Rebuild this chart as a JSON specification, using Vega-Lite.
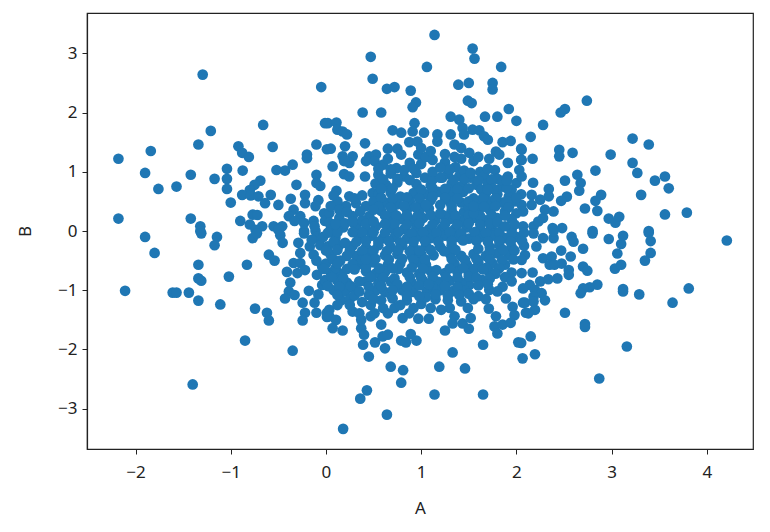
{"$schema":"https://vega.github.io/schema/vega-lite/v6.json","width":666,"height":436,"autosize":"none","padding":{"left":87,"top":13,"right":17,"bottom":83},"background":"white","config":{"view":{"stroke":"#222","strokeWidth":1.2}},"data":{"values":[
{"A":-1.295,"B":2.64},{"A":-0.05,"B":2.43},{"A":-0.66,"B":1.79},{"A":-1.21,"B":1.69},{"A":-1.34,"B":1.46},{"A":-2.18,"B":1.22},{"A":-1.84,"B":1.35},{"A":-1.9,"B":0.98},{"A":-1.76,"B":0.71},{"A":-1.57,"B":0.75},{"A":-1.42,"B":0.95},{"A":-1.17,"B":0.88},{"A":-0.92,"B":1.43},{"A":-0.88,"B":1.32},{"A":-0.81,"B":1.25},{"A":-0.56,"B":1.42},{"A":-0.1,"B":1.46},{"A":-0.2,"B":1.29},{"A":-0.2,"B":1.23},{"A":-1.04,"B":1.05},{"A":-1.04,"B":0.88},{"A":-1.04,"B":0.71},{"A":-0.875,"B":1.02},{"A":-0.52,"B":1.03},{"A":-0.43,"B":1.02},{"A":-0.35,"B":1.12},{"A":-0.1,"B":0.95},{"A":-0.1,"B":0.81},{"A":-0.06,"B":0.76},{"A":-0.31,"B":0.78},{"A":-0.69,"B":0.85},{"A":-0.75,"B":0.78},{"A":-0.8,"B":0.69},{"A":-0.88,"B":0.61},{"A":-0.79,"B":0.6},{"A":-0.71,"B":0.585},{"A":-0.64,"B":0.47},{"A":-0.58,"B":0.61},{"A":-1.0,"B":0.48},{"A":-0.5,"B":0.44},{"A":-0.37,"B":0.545},{"A":-0.22,"B":0.61},{"A":-0.22,"B":0.47},{"A":-0.08,"B":0.52},{"A":-0.11,"B":0.42},{"A":-2.18,"B":0.21},{"A":-1.42,"B":0.21},{"A":-0.9,"B":0.17},{"A":-0.77,"B":0.275},{"A":-0.72,"B":0.27},{"A":-1.32,"B":0.08},{"A":-1.32,"B":0},{"A":-0.8,"B":0.11},{"A":-0.67,"B":0.08},{"A":-0.74,"B":0.02},{"A":-0.55,"B":0.08},{"A":-0.46,"B":0.08},{"A":-0.5,"B":0.02},{"A":-0.34,"B":0.36},{"A":-0.39,"B":0.25},{"A":-0.27,"B":0.25},{"A":-0.33,"B":0.17},{"A":-0.23,"B":0.135},{"A":-0.13,"B":0.17},{"A":-0.02,"B":0.3},{"A":-0.01,"B":0.17},{"A":-0.23,"B":0},{"A":-0.11,"B":0},{"A":-0.01,"B":1.82},{"A":0.01,"B":1.38},
{"A":-1.9,"B":-0.1},{"A":-1.8,"B":-0.37},{"A":-1.31,"B":-0.04},{"A":-1.145,"B":-0.1},{"A":-1.17,"B":-0.24},{"A":-0.77,"B":-0.12},{"A":-0.725,"B":-0.04},{"A":-0.48,"B":-0.07},{"A":-0.455,"B":-0.2},{"A":-0.6,"B":-0.4},{"A":-0.54,"B":-0.5},{"A":-1.34,"B":-0.57},{"A":-0.83,"B":-0.57},{"A":-1.02,"B":-0.77},{"A":-1.34,"B":-0.8},{"A":-1.31,"B":-0.84},{"A":-2.11,"B":-1.01},{"A":-1.61,"B":-1.04},{"A":-1.57,"B":-1.04},{"A":-1.44,"B":-1.04},{"A":-1.34,"B":-1.175},{"A":-1.11,"B":-1.24},{"A":-0.745,"B":-1.31},{"A":-0.62,"B":-1.38},{"A":-0.6,"B":-1.51},{"A":-0.85,"B":-1.85},{"A":-0.35,"B":-2.02},{"A":-1.4,"B":-2.59},{"A":-0.375,"B":-0.87},{"A":-0.39,"B":-1.02},{"A":-0.33,"B":-1.08},{"A":-0.43,"B":-1.14},{"A":-0.18,"B":-1.01},{"A":-0.08,"B":-1.07},{"A":-0.12,"B":-1.21},{"A":-0.245,"B":-1.21},{"A":-0.22,"B":-1.38},{"A":-0.245,"B":-1.51},{"A":-0.1,"B":-1.38},{"A":0.01,"B":-1.38},{"A":0.01,"B":-1.45},{"A":-0.29,"B":-0.2},{"A":-0.23,"B":-0.04},{"A":-0.095,"B":-0.1},{"A":-0.17,"B":-0.26},{"A":-0.06,"B":-0.24},{"A":-0.27,"B":-0.37},{"A":-0.13,"B":-0.4},{"A":-0.34,"B":-0.54},{"A":-0.41,"B":-0.69},{"A":-0.27,"B":-0.54},{"A":-0.3,"B":-0.71},{"A":-0.22,"B":-0.66},{"A":-0.095,"B":-0.74},{"A":-0.04,"B":-0.6},{"A":-0.04,"B":-0.91},{"A":-0.01,"B":-0.83},
{"A":1.14,"B":3.31},{"A":1.54,"B":3.08},{"A":1.56,"B":2.91},{"A":0.47,"B":2.94},{"A":1.06,"B":2.77},{"A":1.84,"B":2.77},{"A":0.49,"B":2.57},{"A":0.64,"B":2.4},{"A":0.72,"B":2.43},{"A":0.89,"B":2.37},{"A":1.39,"B":2.47},{"A":1.5,"B":2.5},{"A":1.75,"B":2.5},{"A":1.75,"B":2.39},{"A":0.945,"B":2.17},{"A":0.91,"B":2.09},{"A":1.49,"B":2.2},{"A":1.53,"B":2.16},{"A":0.385,"B":2.0},{"A":0.58,"B":2.0},{"A":1.92,"B":2.06},{"A":1.67,"B":1.93},{"A":1.8,"B":1.93},{"A":2.0,"B":1.86},{"A":1.31,"B":1.93},{"A":1.4,"B":1.88},{"A":1.435,"B":1.74},{"A":1.54,"B":1.71},{"A":1.61,"B":1.7},{"A":1.66,"B":1.6},{"A":1.7,"B":1.54},{"A":1.45,"B":1.63},{"A":0.02,"B":1.82},{"A":0.11,"B":1.83},{"A":0.12,"B":1.71},{"A":0.175,"B":1.68},{"A":0.22,"B":1.63},{"A":0.93,"B":1.82},{"A":0.91,"B":1.68},{"A":1.03,"B":1.66},{"A":0.875,"B":1.5},{"A":0.96,"B":1.51},{"A":0.7,"B":1.7},{"A":0.79,"B":1.66},{"A":1.17,"B":1.63},{"A":1.17,"B":1.51},{"A":0.41,"B":1.48},{"A":1.31,"B":1.63},{"A":1.35,"B":1.46},{"A":1.42,"B":1.4},{"A":1.505,"B":1.32},{"A":0.2,"B":1.43},{"A":0.05,"B":1.39},{"A":1.855,"B":1.5},{"A":1.94,"B":1.52},{"A":2.05,"B":1.39},{"A":0.65,"B":1.39},{"A":0.75,"B":1.39},{"A":0.79,"B":1.29},{"A":0.455,"B":1.26},{"A":0.525,"B":1.29},{"A":0.42,"B":1.18},{"A":0.51,"B":1.18},{"A":0.175,"B":1.26},{"A":0.28,"B":1.26},{"A":0.245,"B":1.15},{"A":0.19,"B":1.18},{"A":0.97,"B":1.29},{"A":1.785,"B":1.34},{"A":1.82,"B":1.29},{"A":1.715,"B":1.22},{"A":1.775,"B":1.03},{"A":1.91,"B":1.15},{"A":2.05,"B":1.2},{"A":2.03,"B":1.03},{"A":1.91,"B":0.92},{"A":2.0,"B":0.81},{"A":0.07,"B":1.09},{"A":0.19,"B":0.96},{"A":0.245,"B":0.92},{"A":0.41,"B":0.92},{"A":0.11,"B":0.68},{"A":0.245,"B":0.585},{"A":0.315,"B":0.47},{"A":0.21,"B":0.42},{"A":0.49,"B":0.64},{"A":0.42,"B":0.42},{"A":0.035,"B":0.3},{"A":0.14,"B":0.22},{"A":0.28,"B":0.25},{"A":0.455,"B":0.25},{"A":0.035,"B":0.14},{"A":0.315,"B":0.08},{"A":0.665,"B":0.19},{"A":0.525,"B":0.08},
{"A":0.18,"B":-3.34},{"A":0.64,"B":-3.1},{"A":0.36,"B":-2.83},{"A":0.43,"B":-2.69},{"A":1.14,"B":-2.76},{"A":1.65,"B":-2.76},{"A":0.79,"B":-2.56},{"A":0.81,"B":-2.35},{"A":0.68,"B":-2.29},{"A":1.19,"B":-2.29},{"A":1.46,"B":-2.32},{"A":0.45,"B":-2.12},{"A":1.33,"B":-2.05},{"A":1.65,"B":-1.92},{"A":0.39,"B":-1.92},{"A":0.515,"B":-1.88},{"A":0.62,"B":-1.98},{"A":0.595,"B":-1.78},{"A":0.65,"B":-1.75},{"A":0.79,"B":-1.85},{"A":0.84,"B":-1.88},{"A":0.89,"B":-1.74},{"A":0.95,"B":-1.85},{"A":1.25,"B":-1.68},{"A":2.02,"B":-1.88},{"A":2.065,"B":-2.15},{"A":0.37,"B":-1.64},{"A":0.4,"B":-1.75},{"A":0.16,"B":-1.17},{"A":0.035,"B":-1.33},{"A":0.035,"B":-1.44},{"A":0.105,"B":-1.5},{"A":0.07,"B":-1.64},{"A":0.175,"B":-1.68},{"A":0.28,"B":-1.36},{"A":0.35,"B":-1.39},{"A":0.37,"B":-1.5},{"A":0.47,"B":-1.25},{"A":0.47,"B":-1.44},{"A":0.51,"B":-1.39},{"A":0.58,"B":-1.58},{"A":0.65,"B":-1.39},{"A":0.805,"B":-1.47},{"A":0.875,"B":-1.39},{"A":1.0,"B":-1.23},{"A":0.97,"B":-1.48},{"A":1.08,"B":-1.48},{"A":1.06,"B":-1.01},{"A":1.21,"B":-1.33},{"A":1.42,"B":-1.19},{"A":1.49,"B":-1.3},{"A":1.35,"B":-1.44},{"A":1.33,"B":-1.56},{"A":1.435,"B":-1.56},{"A":1.52,"B":-1.47},{"A":1.5,"B":-1.65},{"A":1.71,"B":-1.31},{"A":1.785,"B":-1.44},{"A":1.77,"B":-1.61},{"A":1.8,"B":-1.73},{"A":1.855,"B":-1.58},{"A":1.96,"B":-1.28},{"A":1.98,"B":-1.42},{"A":1.94,"B":-1.55},{"A":2.07,"B":-1.21},{"A":2.1,"B":-1.38},{"A":1.855,"B":-0.94},{"A":1.89,"B":-1.14},{"A":1.715,"B":-0.995},{"A":1.8,"B":-1.02},{"A":1.715,"B":-0.69},{"A":1.645,"B":-0.83},{"A":1.505,"B":-0.91},
{"A":2.74,"B":2.2},{"A":2.51,"B":2.06},{"A":2.465,"B":2.0},{"A":2.28,"B":1.79},{"A":2.15,"B":1.59},{"A":3.22,"B":1.56},{"A":3.39,"B":1.46},{"A":2.45,"B":1.37},{"A":2.45,"B":1.26},{"A":2.59,"B":1.32},{"A":2.99,"B":1.29},{"A":3.22,"B":1.15},{"A":3.27,"B":0.98},{"A":2.83,"B":1.02},{"A":2.64,"B":0.95},{"A":2.675,"B":0.81},{"A":2.66,"B":0.68},{"A":2.51,"B":0.85},{"A":2.175,"B":0.815},{"A":3.56,"B":0.92},{"A":3.455,"B":0.85},{"A":3.6,"B":0.72},{"A":3.31,"B":0.61},{"A":3.79,"B":0.31},{"A":3.56,"B":0.28},{"A":2.89,"B":0.61},{"A":2.83,"B":0.51},{"A":2.72,"B":0.38},{"A":2.85,"B":0.34},{"A":2.97,"B":0.21},{"A":3.04,"B":0.14},{"A":3.08,"B":0.24},{"A":2.53,"B":0.58},{"A":2.47,"B":0.51},{"A":2.34,"B":0.71},{"A":2.34,"B":0.585},{"A":2.16,"B":0.61},{"A":2.16,"B":0.44},{"A":2.25,"B":0.53},{"A":2.055,"B":1.37},{"A":2.055,"B":1.2},{"A":2.17,"B":1.22},{"A":2.055,"B":0.92},{"A":2.055,"B":0.44},{"A":2.07,"B":0.33},{"A":2.3,"B":0.36},{"A":2.39,"B":0.33},{"A":2.28,"B":0.22},{"A":2.07,"B":0.08},{"A":2.18,"B":0.08},{"A":2.23,"B":0.16},{"A":2.38,"B":0.05},{"A":2.48,"B":0.05},{"A":2.8,"B":0},{"A":3.39,"B":0},
{"A":4.21,"B":-0.16},{"A":3.81,"B":-0.97},{"A":3.64,"B":-1.21},{"A":3.29,"B":-1.07},{"A":3.12,"B":-0.98},{"A":3.12,"B":-1.02},{"A":3.16,"B":-1.95},{"A":2.87,"B":-2.49},{"A":2.72,"B":-1.57},{"A":2.72,"B":-1.62},{"A":2.51,"B":-1.38},{"A":2.15,"B":-1.78},{"A":2.05,"B":-1.89},{"A":2.195,"B":-2.08},{"A":2.85,"B":-0.905},{"A":2.77,"B":-0.95},{"A":2.7,"B":-0.97},{"A":2.675,"B":-1.05},{"A":2.7,"B":-0.6},{"A":2.745,"B":-0.67},{"A":3.035,"B":-0.635},{"A":3.1,"B":-0.57},{"A":3.06,"B":-0.38},{"A":3.1,"B":-0.22},{"A":3.12,"B":-0.08},{"A":2.97,"B":-0.135},{"A":2.7,"B":-0.3},{"A":3.39,"B":-0.03},{"A":3.41,"B":-0.17},{"A":3.41,"B":-0.37},{"A":3.35,"B":-0.5},{"A":2.8,"B":-0.04},{"A":2.58,"B":-0.1},{"A":2.6,"B":-0.18},{"A":2.47,"B":-0.33},{"A":2.57,"B":-0.43},{"A":2.475,"B":-0.55},{"A":2.55,"B":-0.66},{"A":2.55,"B":-0.74},{"A":2.28,"B":-0.46},{"A":2.37,"B":-0.43},{"A":2.35,"B":-0.57},{"A":2.4,"B":-0.57},{"A":2.09,"B":-0.405},{"A":2.055,"B":-0.49},{"A":2.17,"B":-0.7},{"A":2.21,"B":-0.26},{"A":2.28,"B":-0.12},{"A":2.39,"B":-0.12},{"A":2.39,"B":0},{"A":2.18,"B":-0.04},{"A":2.055,"B":-0.71},{"A":2.14,"B":-0.91},{"A":2.25,"B":-0.85},{"A":2.335,"B":-0.815},{"A":2.43,"B":-0.8},{"A":2.07,"B":-0.97},{"A":2.195,"B":-0.995},{"A":2.265,"B":-1.05},{"A":2.3,"B":-1.17},{"A":2.18,"B":-1.11},{"A":2.09,"B":-1.21},{"A":2.195,"B":-1.33},{"A":2.125,"B":-1.39},{"A":2.18,"B":-1.19},
{"A":0.6,"B":1.12},{"A":0.74,"B":1.06},{"A":0.88,"B":1.15},{"A":1.0,"B":1.13},{"A":1.25,"B":1.16},{"A":1.36,"B":1.08},{"A":1.42,"B":1.22},{"A":1.62,"B":1.0},{"A":1.12,"B":1.2},
{"A":0.55,"B":0.95},{"A":0.68,"B":0.97},{"A":0.82,"B":0.92},{"A":0.95,"B":0.98},{"A":1.04,"B":0.9},{"A":1.28,"B":0.96},{"A":1.4,"B":0.93},{"A":1.52,"B":0.9},{"A":1.66,"B":0.93},{"A":1.8,"B":0.88},
{"A":0.52,"B":0.8},{"A":0.63,"B":0.78},{"A":0.75,"B":0.82},{"A":0.95,"B":0.79},{"A":1.1,"B":0.77},{"A":1.32,"B":0.8},{"A":1.42,"B":0.76},{"A":1.58,"B":0.78},{"A":1.7,"B":0.8},{"A":1.85,"B":0.75},{"A":1.95,"B":0.7},
{"A":0.55,"B":0.62},{"A":0.68,"B":0.65},{"A":0.78,"B":0.58},{"A":0.92,"B":0.64},{"A":1.05,"B":0.62},{"A":1.18,"B":0.66},{"A":1.32,"B":0.64},{"A":1.44,"B":0.66},{"A":1.68,"B":0.64},{"A":1.8,"B":0.62},{"A":1.92,"B":0.58},{"A":2.05,"B":0.62},
{"A":0.5,"B":0.5},{"A":0.62,"B":0.48},{"A":0.75,"B":0.45},{"A":0.88,"B":0.5},{"A":1.0,"B":0.47},{"A":1.1,"B":0.52},{"A":1.3,"B":0.5},{"A":1.42,"B":0.48},{"A":1.6,"B":0.47},{"A":1.72,"B":0.5},{"A":1.85,"B":0.48},{"A":1.98,"B":0.5},
{"A":0.58,"B":0.34},{"A":0.7,"B":0.32},{"A":0.85,"B":0.36},{"A":0.98,"B":0.33},{"A":1.08,"B":0.38},{"A":1.32,"B":0.35},{"A":1.45,"B":0.32},{"A":1.6,"B":0.34},{"A":1.72,"B":0.36},{"A":1.88,"B":0.33},{"A":2.0,"B":0.3},
{"A":0.38,"B":0.18},{"A":0.78,"B":0.2},{"A":0.9,"B":0.18},{"A":1.02,"B":0.22},{"A":1.15,"B":0.18},{"A":1.3,"B":0.2},{"A":1.42,"B":0.17},{"A":1.55,"B":0.22},{"A":1.68,"B":0.18},{"A":1.8,"B":0.22},{"A":1.95,"B":0.2},
{"A":0.05,"B":0.03},{"A":0.18,"B":0.06},{"A":0.42,"B":0.03},{"A":0.68,"B":0.05},{"A":0.82,"B":0.03},{"A":0.95,"B":0.06},{"A":1.08,"B":0.03},{"A":1.22,"B":0.05},{"A":1.35,"B":0.03},{"A":1.48,"B":0.06},{"A":1.62,"B":0.03},{"A":1.74,"B":0.05},{"A":1.95,"B":0.02},
{"A":-0.03,"B":-0.1},{"A":0.1,"B":-0.12},{"A":0.35,"B":-0.1},{"A":0.48,"B":-0.08},{"A":0.6,"B":-0.12},{"A":0.72,"B":-0.1},{"A":0.85,"B":-0.13},{"A":0.98,"B":-0.09},{"A":1.1,"B":-0.12},{"A":1.25,"B":-0.08},{"A":1.38,"B":-0.1},{"A":1.5,"B":-0.13},{"A":1.62,"B":-0.1},{"A":1.75,"B":-0.08},{"A":1.88,"B":-0.12},{"A":2.0,"B":-0.1},
{"A":0.02,"B":-0.26},{"A":0.14,"B":-0.24},{"A":0.28,"B":-0.25},{"A":0.42,"B":-0.28},{"A":0.55,"B":-0.24},{"A":0.68,"B":-0.27},{"A":0.8,"B":-0.24},{"A":0.92,"B":-0.28},{"A":1.05,"B":-0.25},{"A":1.2,"B":-0.27},{"A":1.32,"B":-0.24},{"A":1.72,"B":-0.27},{"A":1.82,"B":-0.24},{"A":1.95,"B":-0.27},{"A":2.08,"B":-0.25},
{"A":0.05,"B":-0.4},{"A":0.32,"B":-0.42},{"A":0.45,"B":-0.38},{"A":0.62,"B":-0.41},{"A":0.75,"B":-0.39},{"A":0.9,"B":-0.42},{"A":1.0,"B":-0.39},{"A":1.13,"B":-0.41},{"A":1.3,"B":-0.38},{"A":1.42,"B":-0.42},{"A":1.55,"B":-0.39},{"A":1.68,"B":-0.42},{"A":1.8,"B":-0.38},{"A":1.92,"B":-0.41},
{"A":0.0,"B":-0.55},{"A":0.35,"B":-0.56},{"A":0.5,"B":-0.53},{"A":0.65,"B":-0.57},{"A":0.78,"B":-0.55},{"A":0.95,"B":-0.53},{"A":1.05,"B":-0.57},{"A":1.35,"B":-0.55},{"A":1.48,"B":-0.57},{"A":1.6,"B":-0.53},{"A":1.75,"B":-0.55},{"A":1.88,"B":-0.57},
{"A":0.05,"B":-0.7},{"A":0.15,"B":-0.72},{"A":0.42,"B":-0.68},{"A":0.52,"B":-0.72},{"A":0.62,"B":-0.69},{"A":0.85,"B":-0.7},{"A":0.98,"B":-0.72},{"A":1.1,"B":-0.68},{"A":1.25,"B":-0.71},{"A":1.38,"B":-0.69},{"A":1.5,"B":-0.72},{"A":1.95,"B":-0.7},
{"A":0.0,"B":-0.86},{"A":0.12,"B":-0.84},{"A":0.22,"B":-0.87},{"A":0.42,"B":-0.85},{"A":0.55,"B":-0.88},{"A":0.68,"B":-0.85},{"A":0.9,"B":-0.87},{"A":1.02,"B":-0.84},{"A":1.18,"B":-0.86},{"A":1.3,"B":-0.84},{"A":1.42,"B":-0.87},
{"A":0.08,"B":-1.0},{"A":0.2,"B":-1.02},{"A":0.3,"B":-0.99},{"A":0.52,"B":-1.01},{"A":0.62,"B":-1.03},{"A":0.8,"B":-1.0},{"A":0.92,"B":-1.03},{"A":1.2,"B":-1.0},{"A":1.32,"B":-1.02},{"A":1.45,"B":-1.0},
{"A":0.25,"B":-1.15},{"A":0.58,"B":-1.17},{"A":0.7,"B":-1.14},{"A":0.85,"B":-1.17},{"A":1.15,"B":-1.15},{"A":1.28,"B":-1.17},
{"A":0.68,"B":1.04},{"A":0.82,"B":1.03},{"A":0.92,"B":1.05},{"A":1.3,"B":1.04},{"A":1.45,"B":1.02},{"A":1.7,"B":1.05},
{"A":0.6,"B":0.87},{"A":0.75,"B":0.88},{"A":0.88,"B":0.86},{"A":1.12,"B":0.87},{"A":1.22,"B":0.9},{"A":1.34,"B":0.86},{"A":1.46,"B":0.88},{"A":1.6,"B":0.85},{"A":1.74,"B":0.87},{"A":1.86,"B":0.85},
{"A":0.58,"B":0.71},{"A":0.7,"B":0.72},{"A":1.0,"B":0.7},{"A":1.12,"B":0.72},{"A":1.25,"B":0.71},{"A":1.38,"B":0.7},{"A":1.5,"B":0.72},{"A":1.63,"B":0.7},{"A":1.76,"B":0.71},{"A":1.9,"B":0.72},
{"A":0.58,"B":0.56},{"A":0.7,"B":0.55},{"A":0.85,"B":0.57},{"A":0.98,"B":0.55},{"A":1.12,"B":0.58},{"A":1.25,"B":0.56},{"A":1.38,"B":0.55},{"A":1.65,"B":0.56},{"A":1.78,"B":0.55},{"A":1.9,"B":0.5},{"A":2.0,"B":0.56},
{"A":0.55,"B":0.41},{"A":0.68,"B":0.4},{"A":0.82,"B":0.42},{"A":0.94,"B":0.4},{"A":1.05,"B":0.44},{"A":1.32,"B":0.42},{"A":1.5,"B":0.4},{"A":1.66,"B":0.41},{"A":1.78,"B":0.42},{"A":1.92,"B":0.4},
{"A":0.62,"B":0.26},{"A":0.74,"B":0.26},{"A":0.85,"B":0.27},{"A":0.96,"B":0.25},{"A":1.1,"B":0.27},{"A":1.24,"B":0.26},{"A":1.36,"B":0.26},{"A":1.5,"B":0.27},{"A":1.62,"B":0.25},{"A":1.74,"B":0.27},{"A":1.88,"B":0.26},
{"A":0.2,"B":0.13},{"A":0.42,"B":0.12},{"A":0.72,"B":0.12},{"A":0.85,"B":0.11},{"A":0.98,"B":0.13},{"A":1.12,"B":0.11},{"A":1.25,"B":0.12},{"A":1.38,"B":0.11},{"A":1.5,"B":0.13},{"A":1.62,"B":0.11},{"A":1.72,"B":0.12},{"A":1.98,"B":0.11},
{"A":0.02,"B":-0.03},{"A":0.12,"B":-0.02},{"A":0.38,"B":-0.03},{"A":0.5,"B":-0.02},{"A":0.62,"B":-0.03},{"A":0.76,"B":-0.02},{"A":0.9,"B":-0.04},{"A":1.02,"B":-0.02},{"A":1.16,"B":-0.03},{"A":1.3,"B":-0.02},{"A":1.42,"B":-0.04},{"A":1.56,"B":-0.02},{"A":1.68,"B":-0.03},{"A":1.82,"B":-0.02},{"A":1.95,"B":-0.04},{"A":2.08,"B":-0.03},
{"A":0.08,"B":-0.18},{"A":0.32,"B":-0.18},{"A":0.42,"B":-0.17},{"A":0.55,"B":-0.18},{"A":0.66,"B":-0.17},{"A":0.78,"B":-0.19},{"A":0.92,"B":-0.18},{"A":1.04,"B":-0.17},{"A":1.18,"B":-0.18},{"A":1.32,"B":-0.17},{"A":1.44,"B":-0.16},{"A":1.58,"B":-0.17},{"A":1.7,"B":-0.18},{"A":1.82,"B":-0.17},{"A":1.94,"B":-0.18},{"A":2.06,"B":-0.17},
{"A":0.0,"B":-0.33},{"A":0.12,"B":-0.32},{"A":0.25,"B":-0.33},{"A":0.38,"B":-0.34},{"A":0.5,"B":-0.33},{"A":0.64,"B":-0.34},{"A":0.76,"B":-0.32},{"A":0.88,"B":-0.34},{"A":0.98,"B":-0.33},{"A":1.1,"B":-0.32},{"A":1.24,"B":-0.34},{"A":1.36,"B":-0.32},{"A":1.72,"B":-0.34},{"A":1.86,"B":-0.32},{"A":1.98,"B":-0.33},
{"A":0.08,"B":-0.48},{"A":0.38,"B":-0.49},{"A":0.52,"B":-0.47},{"A":0.66,"B":-0.48},{"A":0.8,"B":-0.47},{"A":0.92,"B":-0.49},{"A":1.04,"B":-0.48},{"A":1.32,"B":-0.47},{"A":1.46,"B":-0.49},{"A":1.58,"B":-0.47},{"A":1.72,"B":-0.48},{"A":1.85,"B":-0.49},{"A":1.97,"B":-0.48},
{"A":-0.02,"B":-0.64},{"A":0.1,"B":-0.63},{"A":0.22,"B":-0.64},{"A":0.42,"B":-0.62},{"A":0.56,"B":-0.63},{"A":0.76,"B":-0.64},{"A":0.9,"B":-0.62},{"A":1.02,"B":-0.64},{"A":1.16,"B":-0.66},{"A":1.3,"B":-0.63},{"A":1.44,"B":-0.62},{"A":1.56,"B":-0.64},{"A":1.68,"B":-0.62},{"A":1.82,"B":-0.63},
{"A":0.06,"B":-0.78},{"A":0.18,"B":-0.79},{"A":0.47,"B":-0.78},{"A":0.6,"B":-0.79},{"A":0.88,"B":-0.78},{"A":1.0,"B":-0.79},{"A":1.12,"B":-0.77},{"A":1.26,"B":-0.78},{"A":1.38,"B":-0.79},{"A":1.5,"B":-0.77},{"A":1.58,"B":-0.79},
{"A":0.02,"B":-0.93},{"A":0.14,"B":-0.94},{"A":0.26,"B":-0.93},{"A":0.45,"B":-0.94},{"A":0.58,"B":-0.93},{"A":0.85,"B":-0.94},{"A":0.98,"B":-0.92},{"A":1.12,"B":-0.94},{"A":1.25,"B":-0.93},{"A":1.38,"B":-0.94},
{"A":0.12,"B":-1.08},{"A":0.3,"B":-1.09},{"A":0.45,"B":-1.08},{"A":0.68,"B":-1.07},{"A":0.85,"B":-1.09},{"A":1.15,"B":-1.07},{"A":1.28,"B":-1.09},{"A":1.4,"B":-1.08},{"A":1.5,"B":-1.06},
{"A":0.3,"B":0.55},{"A":0.38,"B":0.6},{"A":0.12,"B":0.5},{"A":0.05,"B":0.42},{"A":0.14,"B":0.36},{"A":0.36,"B":0.33},{"A":0.5,"B":0.36},{"A":0.22,"B":0.32},{"A":0.1,"B":0.12},{"A":0.28,"B":0.15},{"A":0.5,"B":0.16},{"A":0.62,"B":0.12},{"A":0.28,"B":-0.02},{"A":0.2,"B":-0.2},{"A":0.22,"B":-0.42},{"A":0.15,"B":-0.5},{"A":0.28,"B":-0.56},{"A":0.42,"B":-0.48},{"A":0.3,"B":-0.65},{"A":0.7,"B":-0.63},{"A":0.72,"B":-0.8},{"A":0.75,"B":-0.9},{"A":0.35,"B":-0.85},{"A":0.35,"B":-1.02},{"A":1.2,"B":0.44},{"A":1.2,"B":0.3},{"A":1.2,"B":0.9},{"A":1.12,"B":1.0},{"A":1.2,"B":1.07},{"A":1.05,"B":1.25},{"A":1.25,"B":1.3},{"A":1.35,"B":1.25},{"A":1.55,"B":1.18},{"A":1.6,"B":1.25},{"A":1.0,"B":1.4},{"A":1.1,"B":1.35},{"A":1.52,"B":0.98},{"A":1.9,"B":0.85},{"A":1.7,"B":0.7},{"A":1.55,"B":0.55},{"A":1.5,"B":0.5},{"A":1.55,"B":0.3},{"A":1.55,"B":0.42},{"A":1.8,"B":0.15},{"A":1.88,"B":0.08},{"A":1.6,"B":-0.3},{"A":1.65,"B":-0.65},{"A":1.78,"B":-0.72},{"A":1.88,"B":-0.78},{"A":1.72,"B":-0.8},{"A":1.95,"B":-0.85},{"A":1.6,"B":-0.92},{"A":1.7,"B":-0.9},{"A":1.6,"B":-1.1},{"A":1.68,"B":-1.15},{"A":1.55,"B":-1.15},{"A":1.05,"B":-1.12},{"A":0.98,"B":-1.1},{"A":1.08,"B":-0.9},{"A":0.7,"B":-1.0},{"A":0.5,"B":-1.15},{"A":0.38,"B":-1.2},{"A":0.25,"B":-1.25},{"A":0.72,"B":-1.3},{"A":0.6,"B":-1.3},{"A":0.78,"B":-1.25},{"A":1.1,"B":-1.3},{"A":0.92,"B":-1.3},{"A":1.3,"B":-1.3},{"A":0.12,"B":-1.25},{"A":0.12,"B":-0.55},{"A":-0.1,"B":-0.5},{"A":-0.15,"B":-0.15},{"A":-0.12,"B":0.08},{"A":0.08,"B":0.6},{"A":0.55,"B":1.05},{"A":0.65,"B":1.22}
]},"mark":{"type":"circle","size":114,"color":"#1f77b4","opacity":1},"encoding":{"x":{"field":"A","type":"quantitative","scale":{"domain":[-2.51,4.485],"nice":false,"zero":false},"axis":{"values":[-2,-1,0,1,2,3,4],"grid":false,"title":"A","titleFont":"Noto Sans","titleFontWeight":"normal","titleFontSize":17,"titleColor":"#222","titlePadding":20,"labelFont":"Noto Sans","labelFontSize":17,"labelColor":"#222","labelPadding":10,"tickColor":"#222","tickSize":5,"domainColor":"#222","domainWidth":1.2}},"y":{"field":"B","type":"quantitative","scale":{"domain":[-3.68,3.68],"nice":false,"zero":false},"axis":{"values":[-3,-2,-1,0,1,2,3],"grid":false,"title":"B","titleFont":"Noto Sans","titleFontWeight":"normal","titleFontSize":17,"titleColor":"#222","titlePadding":23,"labelFont":"Noto Sans","labelFontSize":17,"labelColor":"#222","labelPadding":5,"tickColor":"#222","tickSize":5,"domainColor":"#222","domainWidth":1.2}}}}
